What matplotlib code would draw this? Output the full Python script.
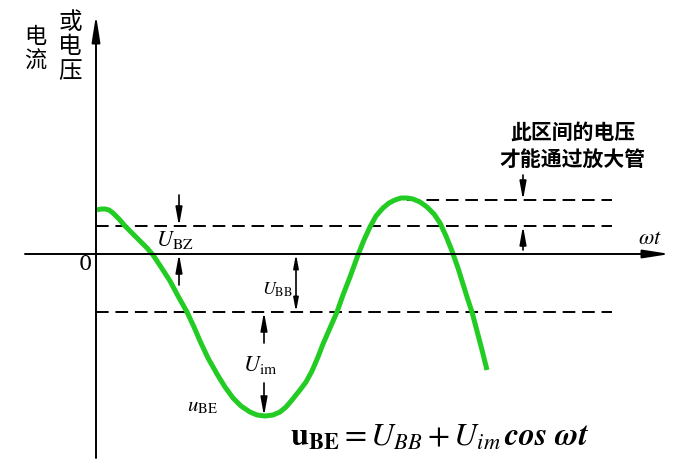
import matplotlib
matplotlib.use('agg')
import matplotlib.pyplot as plt

plt.rcParams['font.family'] = ['Noto Sans CJK SC', 'DejaVu Sans']
plt.rcParams['mathtext.fontset'] = 'stix'

# green curve u_BE (x: wt, y: voltage), origin at axis cross
wt = [0.01, 0.05, 0.09, 0.13, 0.17, 0.23, 0.29, 0.36, 0.44, 0.51,
      0.57, 0.65, 0.74, 0.82, 0.91, 0.98, 1.04, 1.12, 1.21, 1.29,
      1.37, 1.45, 1.54, 1.61, 1.69, 1.77, 1.84, 1.90, 1.96, 2.04,
      2.10, 2.16, 2.22, 2.27, 2.34, 2.41, 2.47, 2.54, 2.58, 2.62,
      2.68, 2.74, 2.80, 2.87, 2.93, 2.99, 3.05, 3.11, 3.17, 3.24,
      3.31, 3.38, 3.44, 3.50, 3.56, 3.62, 3.67, 3.72, 3.76, 3.81,
      3.86, 3.91]
u_be = [0.44, 0.45, 0.45, 0.44, 0.41, 0.35, 0.28, 0.21, 0.13, 0.06,
        -0.01, -0.13, -0.27, -0.42, -0.58, -0.73, -0.87, -1.04, -1.20, -1.33,
        -1.44, -1.52, -1.58, -1.61, -1.62, -1.61, -1.58, -1.53, -1.46, -1.36,
        -1.28, -1.17, -1.03, -0.90, -0.74, -0.58, -0.41, -0.23, -0.12, -0.01,
        0.14, 0.27, 0.38, 0.46, 0.51, 0.54, 0.56, 0.56, 0.55, 0.52,
        0.47, 0.40, 0.31, 0.18, 0.03, -0.14, -0.30, -0.46, -0.58, -0.77,
        -0.96, -1.16]

U_BZ = 0.28      # threshold dashed line
U_BB = -0.58     # bias dashed line
U_TOP = 0.54     # dashed line through the peak
U_MIN = -1.62    # lowest point of the curve
X_PEAK = 3.11
X_END = 5.16     # right end of dashed lines

top_text = ['此区间的电压', '才能通过放大管']
formula = r'$\mathbf{u}_{\mathbf{BE}} = U_{BB} + U_{im}\,\mathbfit{cos\ \omega t}$'

fig = plt.figure(figsize=(6.75, 4.7), dpi=100)
ax = fig.add_axes([0, 0, 1, 1])
ax.set_xlim(-0.96, 5.79)
ax.set_ylim(-2.16, 2.54)
ax.axis('off')

# axes with arrows
axis_style = dict(arrowstyle='-|>,head_width=0.25,head_length=1.6', color='black',
                  lw=1.4, shrinkA=0, shrinkB=0)
ax.annotate('', xy=(5.74, 0), xytext=(-0.71, 0), arrowprops=axis_style)
ax.annotate('', xy=(0, 2.39), xytext=(0, -2.04), arrowprops=axis_style)

# dashed levels
dash = dict(color='black', lw=1.4, dashes=(6.5, 3.5))
ax.plot([0, X_END], [U_BZ, U_BZ], **dash)
ax.plot([0, X_END], [U_BB, U_BB], **dash)
ax.plot([X_PEAK, X_END], [U_TOP, U_TOP], **dash)

ax.plot(wt, u_be, color='#22cc22', lw=3.6, solid_capstyle='butt', solid_joinstyle='round')

small = dict(arrowstyle='-|>,head_width=0.2,head_length=1.1', color='black',
             lw=1.2, shrinkA=0, shrinkB=0)


def arrow(x, y0, y1, style=small):
    ax.annotate('', xy=(x, y1), xytext=(x, y0), arrowprops=style)


# U_BZ marks
arrow(0.83, 0.59, U_BZ)
arrow(0.83, -0.31, 0)
# U_BB double arrow
arrow(2.0, 0, U_BB, dict(small, arrowstyle='<|-|>,head_width=0.15,head_length=0.8'))
# U_im marks
arrow(1.68, -0.89, U_BB)
arrow(1.68, -1.29, U_MIN)
# right-hand marks
arrow(4.27, 0.79, U_TOP)
arrow(4.27, 0.04, U_BZ)

ax.text(0.79, 0.14, r'$U_{\rm BZ}$', fontsize=16, ha='center', va='center')
ax.text(1.81, -0.36, r'$U_{\rm BB}$', fontsize=13, ha='center', va='center')
ax.text(1.64, -1.11, r'$U_{\rm im}$', fontsize=16, ha='center', va='center')
ax.text(1.06, -1.51, r'$u_{\rm BE}$', fontsize=15, ha='center', va='center')
ax.text(-0.11, -0.11, '0', fontsize=15, family='DejaVu Serif', ha='center', va='center')
ax.text(5.54, 0.16, r'$\omega t$', fontsize=16, ha='center', va='center')

ax.text(4.77, 1.22, top_text[0], fontsize=15, fontweight='bold', ha='center', va='center')
ax.text(4.77, 0.94, top_text[1], fontsize=15, fontweight='bold', ha='center', va='center')

ax.text(-0.26, 2.43, '或\n电\n压', fontsize=17, ha='center', va='top', linespacing=1.08)
ax.text(-0.61, 2.29, '电\n流', fontsize=16, ha='center', va='top', linespacing=1.08)

ax.text(3.44, -1.83, formula, fontsize=23, ha='center', va='center')

fig.savefig('out.png', dpi=100)
